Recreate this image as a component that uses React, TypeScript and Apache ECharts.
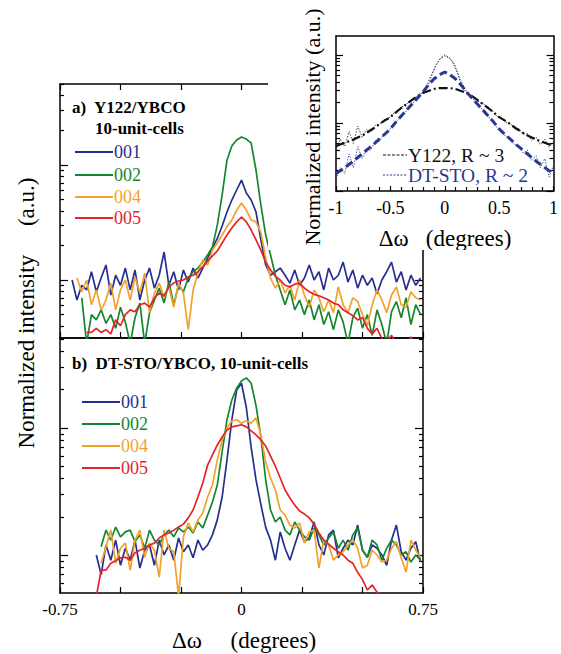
import React, { useEffect, useRef } from "react";
import * as echarts from "echarts";

const FONT = "Liberation Serif";

// Δω (degrees) sampling used by both main panels
const dOmega = [
  -0.70, -0.68, -0.66, -0.64, -0.62, -0.60, -0.58, -0.56, -0.54, -0.52,
  -0.50, -0.48, -0.46, -0.44, -0.42, -0.40, -0.38, -0.36, -0.34, -0.32,
  -0.30, -0.28, -0.26, -0.24, -0.22, -0.20, -0.18, -0.16, -0.14, -0.12,
  -0.10, -0.08, -0.06, -0.04, -0.02, 0, 0.02, 0.04, 0.06, 0.08,
  0.10, 0.12, 0.14, 0.16, 0.18, 0.20, 0.22, 0.24, 0.26, 0.28,
  0.30, 0.32, 0.34, 0.36, 0.38, 0.40, 0.42, 0.44, 0.46, 0.48,
  0.50, 0.52, 0.54, 0.56, 0.58, 0.60, 0.62, 0.64, 0.66, 0.68,
  0.70, 0.72, 0.74,
];

const seriesNames = ["001", "002", "004", "005"];
const seriesColors = ["#262f8f", "#15862f", "#f2a22a", "#e2252b"];

// panel a) Y122/YBCO
const a001 = [
  1.00, 0.67, 0.90, 0.82, 1.18, 0.79, 1.04, 1.35, 0.74, 1.10,
  0.90, 1.27, 0.82, 1.22, 0.67, 1.00, 1.27, 0.85, 1.10, 1.75,
  0.90, 1.18, 0.82, 1.22, 0.96, 1.27, 1.04, 1.27, 1.55, 1.90,
  2.30, 2.95, 3.90, 4.96, 6.06, 7.40, 5.70, 4.96, 3.90, 2.23,
  1.35, 1.10, 1.18, 1.27, 1.10, 0.94, 1.22, 0.90, 1.04, 1.35,
  1.00, 1.18, 0.82, 1.27, 1.00, 1.10, 1.43, 0.96, 1.22, 0.85,
  1.10, 0.90, 1.04, 0.76, 1.00, 1.18, 1.43, 0.96, 1.18, 0.82,
  1.10, 0.90, 1.04,
];
const a002 = [
  null, null, 0.70, 0.28, 0.50, 0.45, 0.55, 0.42, 0.50, 0.38,
  0.58, 0.43, 0.28, 0.47, 0.63, 0.28, 0.52, 0.67, 0.85, 0.63,
  0.96, 0.61, 0.90, 0.79, 1.04, 1.18, 1.27, 1.43, 1.65, 1.94,
  3.00, 5.50, 11.0, 14.6, 16.5, 17.5, 16.8, 15.5, 9.00, 4.49,
  2.46, 1.65, 1.10, 0.82, 0.61, 0.82, 0.55, 0.67, 0.50, 0.67,
  0.45, 0.61, 0.41, 0.53, 0.37, 0.55, 0.43, 0.28, 0.47, 0.57,
  0.38, 0.50, 0.33, 0.55, 0.41, 0.28, 0.53, 0.65, 0.47, 0.70,
  0.41, 0.61, 0.50,
];
const a004 = [
  null, 1.04, 0.79, 1.00, 0.61, 0.82, 0.55, 0.67, 0.94, 0.55,
  0.82, 1.00, 0.67, 1.06, 0.77, 1.15, 0.52, 0.77, 0.94, 0.71,
  0.87, 0.58, 0.94, 0.77, 0.37, 0.82, 1.15, 1.49, 1.35, 1.82,
  2.10, 2.46, 2.90, 3.32, 4.06, 4.67, 4.06, 3.32, 3.20, 2.60,
  1.55, 1.04, 0.85, 1.00, 0.77, 0.90, 0.67, 1.00, 0.74, 0.58,
  0.82, 0.70, 0.53, 0.67, 0.52, 0.87, 0.61, 0.52, 0.70, 0.65,
  0.50, 0.40, 0.61, 0.82, 0.67, 0.52, 0.74, 0.87, 0.61, 0.58,
  0.79, 0.70, 0.67,
];
const a005 = [
  null, null, null, 0.35, 0.35, 0.38, 0.35, 0.37, 0.34, 0.45,
  0.40, 0.50, 0.55, 0.53, 0.61, 0.63, 0.58, 0.70, 0.77, 0.73,
  0.87, 0.94, 0.98, 1.00, 1.06, 1.10, 1.18, 1.30, 1.46, 1.62,
  1.79, 2.10, 2.46, 2.83, 3.20, 3.53, 3.20, 2.72, 2.23, 1.82,
  1.43, 1.22, 1.08, 1.00, 0.90, 0.87, 0.92, 0.94, 0.85, 0.79,
  0.75, 0.73, 0.70, 0.67, 0.63, 0.61, 0.55, 0.52, 0.49, 0.45,
  0.47, 0.38, 0.34, 0.38, 0.31, 0.29, 0.33, 0.28, 0.30, 0.27,
  0.32, 0.28, 0.30,
];

// panel b) DT-STO/YBCO
const b001 = [
  null, null, null, null, null, 1.00, 0.70, 1.20, 0.91, 1.31,
  0.83, 1.13, 0.91, 1.31, 0.79, 1.09, 1.20, 0.83, 1.31, 1.00,
  1.20, 0.91, 1.36, 1.06, 1.20, 0.95, 1.31, 1.09, 1.20, 1.44,
  1.89, 2.86, 5.60, 11.6, 19.9, 22.5, 14.5, 7.00, 3.90, 2.50,
  1.65, 1.31, 0.91, 1.52, 1.13, 0.91, 1.20, 1.57, 1.27, 1.36,
  1.82, 1.20, 1.00, 1.44, 1.57, 0.95, 1.13, 1.31, 1.20, 1.72,
  1.09, 0.96, 1.20, 1.13, 1.00, 0.83, 1.31, 1.72, 1.06, 0.91,
  1.13, 1.27, 0.88,
];
const b002 = [
  null, null, null, null, null, null, 1.16, 1.57, 1.31, 1.66,
  1.39, 1.52, 1.57, 1.27, 1.44, 1.13, 1.57, 1.31, 1.20, 1.44,
  1.57, 1.39, 1.63, 1.52, 1.66, 1.49, 1.82, 1.63, 2.06, 2.61,
  3.56, 6.50, 11.6, 16.6, 20.6, 23.4, 24.8, 22.5, 15.0, 8.50,
  3.90, 2.26, 1.82, 1.99, 1.57, 1.44, 1.82, 1.57, 1.39, 1.31,
  1.63, 1.44, 1.20, 1.36, 1.52, 1.13, 1.31, 1.09, 1.44, 1.63,
  1.09, 0.96, 1.31, 1.20, 0.91, 1.13, 1.31, 1.20, 1.00, 1.06,
  0.88, 1.00, 0.91,
];
const b004 = [
  null, null, null, null, null, null, 0.86, 1.16, 1.57, 0.86,
  1.13, 1.24, 0.76, 1.31, 1.57, 0.96, 1.24, 1.09, 0.67, 1.57,
  1.13, 1.06, 0.47, 1.39, 1.79, 1.52, 1.89, 2.14, 2.86, 3.56,
  5.60, 8.05, 10.0, 11.4, 11.6, 10.9, 11.4, 10.9, 12.0, 8.81,
  5.40, 4.04, 3.25, 2.26, 2.06, 1.72, 1.63, 1.79, 1.24, 1.52,
  1.57, 0.79, 1.31, 1.20, 0.91, 1.00, 1.06, 1.20, 1.31, 1.13,
  0.79, 0.83, 1.09, 1.00, 0.88, 0.91, 1.13, 1.27, 0.95, 0.73,
  1.31, 1.09, 0.96,
];
const b005 = [
  null, null, null, null, null, 0.47, 0.76, 0.76, 0.86, 0.90,
  0.95, 0.96, 0.91, 1.04, 1.09, 1.13, 1.20, 1.24, 1.36, 1.44,
  1.49, 1.57, 1.66, 1.75, 1.96, 2.26, 2.86, 3.69, 5.11, 6.13,
  7.35, 8.50, 9.64, 10.2, 10.4, 10.6, 10.2, 9.50, 8.81, 8.05,
  7.20, 6.00, 5.00, 4.04, 3.25, 2.81, 2.47, 2.22, 2.10, 1.96,
  1.75, 1.49, 1.31, 1.22, 1.13, 1.06, 1.00, 0.91, 0.86, 0.73,
  0.64, 0.53, 0.58, 0.51, 0.47, null, null, null, null, null,
  null, null, null,
];

// axis extents and tick values
const mainXMin = -0.75;
const mainXMax = 0.75;
const mainXInterval = 0.25;
const mainXLabelValues = [-0.75, 0, 0.75];
const mainXLabels = ["-0.75", "0", "0.75"];
const topYMin = 0.3131;
const topYMax = 50.6;
const botYMin = 0.502;
const botYMax = 51.1;
const mainMajorTicks = [1, 10];
const topMinorTicks = [0.4, 0.5, 0.6, 0.7, 0.8, 0.9, 2, 3, 4, 5, 6, 7, 8, 9, 20, 30, 40, 50];
const botMinorTicks = [0.6, 0.7, 0.8, 0.9, 2, 3, 4, 5, 6, 7, 8, 9, 20, 30, 40, 50];

// inset
const insetRawX = [
  -1.00, -0.96, -0.92, -0.88, -0.84, -0.80, -0.76, -0.72, -0.68, -0.64,
  -0.60, -0.56, -0.52, -0.48, -0.44, -0.40, -0.36, -0.32, -0.28, -0.24,
  -0.20, -0.16, -0.12, -0.08, -0.04, 0, 0.04, 0.08, 0.12, 0.16,
  0.20, 0.24, 0.28, 0.32, 0.36, 0.40, 0.44, 0.48, 0.52, 0.56,
  0.60, 0.64, 0.68, 0.72, 0.76, 0.80, 0.84, 0.88, 0.92, 0.96,
  1.00,
];
const y122Raw = [
  0.040, 0.058, 0.045, 0.075, 0.050, 0.090, 0.062, 0.080, 0.074, 0.092,
  0.095, 0.112, 0.113, 0.137, 0.142, 0.172, 0.180, 0.212, 0.228, 0.26,
  0.28, 0.33, 0.50, 0.70, 0.90, 1.00, 0.92, 0.74, 0.52, 0.34,
  0.28, 0.252, 0.235, 0.200, 0.190, 0.160, 0.150, 0.126, 0.120, 0.102,
  0.100, 0.082, 0.083, 0.068, 0.070, 0.055, 0.062, 0.048, 0.058, 0.044,
  0.052,
];
const dtStoRaw = [
  0.015, 0.022, 0.018, 0.035, 0.022, 0.045, 0.030, 0.042, 0.040, 0.055,
  0.054, 0.070, 0.073, 0.094, 0.104, 0.132, 0.145, 0.182, 0.205, 0.25,
  0.29, 0.38, 0.52, 0.72, 0.88, 0.97, 0.90, 0.78, 0.55, 0.38,
  0.29, 0.238, 0.212, 0.172, 0.152, 0.123, 0.110, 0.086, 0.079, 0.063,
  0.060, 0.048, 0.047, 0.036, 0.040, 0.028, 0.033, 0.022, 0.030, 0.016,
  0.024,
];
const insetFitX = [
  -1.00, -0.95, -0.90, -0.85, -0.80, -0.75, -0.70, -0.65, -0.60, -0.55,
  -0.50, -0.45, -0.40, -0.35, -0.30, -0.25, -0.20, -0.15, -0.10, -0.05,
  0, 0.05, 0.10, 0.15, 0.20, 0.25, 0.30, 0.35, 0.40, 0.45,
  0.50, 0.55, 0.60, 0.65, 0.70, 0.75, 0.80, 0.85, 0.90, 0.95,
  1.00,
];
const y122Fit = [
  0.0459, 0.0491, 0.0525, 0.0562, 0.0612, 0.0666, 0.075, 0.0844, 0.0967, 0.109,
  0.122, 0.143, 0.166, 0.190, 0.218, 0.249, 0.276, 0.296, 0.316, 0.325,
  0.327, 0.325, 0.316, 0.296, 0.276, 0.249, 0.218, 0.190, 0.166, 0.143,
  0.122, 0.109, 0.0967, 0.0844, 0.075, 0.0666, 0.0612, 0.0562, 0.0525, 0.0491,
  0.0459,
];
const dtStoFit = [
  0.0181, 0.0204, 0.0233, 0.0267, 0.0311, 0.0362, 0.0422, 0.0491, 0.0582, 0.0689,
  0.0817, 0.103, 0.127, 0.155, 0.190, 0.233, 0.286, 0.362, 0.444, 0.508,
  0.562, 0.508, 0.444, 0.362, 0.286, 0.233, 0.190, 0.155, 0.127, 0.103,
  0.0817, 0.0689, 0.0582, 0.0491, 0.0422, 0.0362, 0.0311, 0.0267, 0.0233, 0.0204,
  0.0181,
];
const insetLegend = ["Y122, R ~ 3", "DT-STO, R ~ 2"];
const insetColors = ["#111111", "#2a3891"];
const insetXMin = -1;
const insetXMax = 1;
const insetXInterval = 0.5;
const insetYMin = 0.01;
const insetYMax = 1.9;
const insetMajorTicks = [0.01, 0.1, 1];
const insetMinorTicks = [0.02, 0.03, 0.04, 0.05, 0.06, 0.07, 0.08, 0.09, 0.2, 0.3, 0.4, 0.5, 0.6, 0.7, 0.8, 0.9];

function pairs(xs: number[], ys: (number | null)[]) {
  const out: number[][] = [];
  for (let i = 0; i < xs.length; i++) {
    const y = ys[i];
    if (y !== null && y !== undefined) out.push([xs[i], y]);
  }
  return out;
}

const BLACK_LINE = { color: "#000", width: 1.5 };
const TICK_LINE = { color: "#000", width: 1.2 };

function logYAxes(gridIndex: number, min: number, max: number, major: number[], minor: number[], majorLen: number, minorLen: number) {
  const make = (position: string, ticks: number[], len: number, showLine: boolean) => ({
    type: "log",
    logBase: 10,
    gridIndex,
    position,
    min,
    max,
    axisLine: { show: showLine, onZero: false, lineStyle: BLACK_LINE },
    axisTick: { show: true, inside: true, length: len, customValues: ticks, lineStyle: TICK_LINE },
    axisLabel: { show: false },
    splitLine: { show: false },
    minorTick: { show: false },
    minorSplitLine: { show: false },
  });
  return [
    make("left", major, majorLen, true),
    make("left", minor, minorLen, false),
    make("right", major, majorLen, true),
    make("right", minor, minorLen, false),
  ];
}

function mainXAxis(gridIndex: number, position: string, showTicks: boolean, showLabels: boolean) {
  return {
    type: "value",
    gridIndex,
    position,
    min: mainXMin,
    max: mainXMax,
    interval: mainXInterval,
    axisLine: { show: true, onZero: false, lineStyle: BLACK_LINE },
    axisTick: { show: showTicks, inside: true, length: 6, lineStyle: TICK_LINE },
    axisLabel: {
      show: showLabels,
      margin: 8,
      color: "#000",
      fontSize: 17,
      fontFamily: FONT,
      showMinLabel: true,
      showMaxLabel: true,
      formatter: (v: number) => {
        for (let i = 0; i < mainXLabelValues.length; i++) {
          if (Math.abs(v - mainXLabelValues[i]) < 1e-9) return mainXLabels[i];
        }
        return "";
      },
    },
    splitLine: { show: false },
  };
}

function text(str: string, x: number, y: number, size: number, color = "#000", weight = "normal", extra: any = {}) {
  const { align, ...rest } = extra;
  return {
    type: "text",
    x,
    y,
    silent: true,
    ...rest,
    style: {
      text: str,
      fill: color,
      fontSize: size,
      fontFamily: FONT,
      fontWeight: weight,
      align: align || "left",
      verticalAlign: "middle",
    },
  };
}

function legendBlock(x1: number, x2: number, ys: number[]) {
  const els: any[] = [];
  seriesNames.forEach((name, i) => {
    els.push({
      type: "line",
      silent: true,
      shape: { x1, y1: ys[i], x2, y2: ys[i] },
      style: { stroke: seriesColors[i], lineWidth: 1.8 },
    });
    els.push(text(name, x2 + 1, ys[i], 18, seriesColors[i]));
  });
  return els;
}

function buildMainOption() {
  const topData = [a001, a002, a004, a005];
  const botData = [b001, b002, b004, b005];
  const series: any[] = [];
  topData.forEach((d, i) =>
    series.push({
      name: "a " + seriesNames[i],
      type: "line",
      xAxisIndex: 0,
      yAxisIndex: 0,
      data: pairs(dOmega, d),
      symbol: "none",
      showSymbol: false,
      clip: true,
      lineStyle: { color: seriesColors[i], width: 1.7 },
      itemStyle: { color: seriesColors[i] },
    })
  );
  botData.forEach((d, i) =>
    series.push({
      name: "b " + seriesNames[i],
      type: "line",
      xAxisIndex: 2,
      yAxisIndex: 4,
      data: pairs(dOmega, d),
      symbol: "none",
      showSymbol: false,
      clip: true,
      lineStyle: { color: seriesColors[i], width: 1.7 },
      itemStyle: { color: seriesColors[i] },
    })
  );

  return {
    animation: false,
    backgroundColor: "#fff",
    textStyle: { fontFamily: FONT },
    grid: [
      { left: 60, top: 84, width: 363, height: 254 },
      { left: 60, top: 338, width: 363, height: 255 },
    ],
    xAxis: [
      mainXAxis(0, "bottom", true, false),
      mainXAxis(0, "top", true, false),
      mainXAxis(1, "bottom", true, true),
      mainXAxis(1, "top", false, false),
    ],
    yAxis: [
      ...logYAxes(0, topYMin, topYMax, mainMajorTicks, topMinorTicks, 8, 4),
      ...logYAxes(1, botYMin, botYMax, mainMajorTicks, botMinorTicks, 8, 4),
    ],
    series,
    graphic: [
      text("a)  Y122/YBCO", 72, 107, 17, "#000", "bold"),
      text("10-unit-cells", 95, 128, 17, "#000", "bold"),
      text("b)  DT-STO/YBCO, 10-unit-cells", 72, 363, 17, "#000", "bold"),
      ...legendBlock(75, 113, [152, 175, 197, 218]),
      ...legendBlock(82, 120, [402, 424, 446, 468]),
      text("Normalized intensity     (a.u.)", 26, 313, 23, "#000", "normal", { rotation: Math.PI / 2, align: "center" }),
      text("\u0394\u03c9     (degrees)", 244, 640, 23, "#000", "normal", { align: "center" }),
    ],
  };
}

function buildInsetOption() {
  const yAxes = logYAxes(0, insetYMin, insetYMax, insetMajorTicks, insetMinorTicks, 7, 4);
  return {
    animation: false,
    backgroundColor: "#fff",
    textStyle: { fontFamily: FONT },
    grid: { left: 68, top: 36, width: 221, height: 155 },
    xAxis: [
      {
        type: "value",
        position: "bottom",
        min: insetXMin,
        max: insetXMax,
        interval: insetXInterval,
        axisLine: { show: true, onZero: false, lineStyle: BLACK_LINE },
        axisTick: { show: true, inside: true, length: 5, lineStyle: TICK_LINE },
        minorTick: { show: true, splitNumber: 5, length: 4, lineStyle: TICK_LINE },
        axisLabel: { show: true, margin: 8, color: "#000", fontSize: 18, fontFamily: FONT, showMinLabel: true, showMaxLabel: true },
        splitLine: { show: false },
      },
      {
        type: "value",
        position: "top",
        min: insetXMin,
        max: insetXMax,
        interval: insetXInterval,
        axisLine: { show: true, onZero: false, lineStyle: BLACK_LINE },
        axisTick: { show: false },
        axisLabel: { show: false },
        splitLine: { show: false },
      },
    ],
    yAxis: yAxes,
    series: [
      {
        name: "Y122 data",
        type: "line",
        data: pairs(insetRawX, y122Raw),
        symbol: "none",
        showSymbol: false,
        lineStyle: { color: "#333", width: 0.9, type: [1.5, 1.5] },
      },
      {
        name: "DT-STO data",
        type: "line",
        data: pairs(insetRawX, dtStoRaw),
        symbol: "none",
        showSymbol: false,
        lineStyle: { color: "#3343a0", width: 0.9, type: [1.5, 1.5] },
      },
      {
        name: insetLegend[0],
        type: "line",
        data: pairs(insetFitX, y122Fit),
        symbol: "none",
        showSymbol: false,
        lineStyle: { color: insetColors[0], width: 2.2, type: [9, 3, 2, 3] },
      },
      {
        name: insetLegend[1],
        type: "line",
        data: pairs(insetFitX, dtStoFit),
        symbol: "none",
        showSymbol: false,
        lineStyle: { color: insetColors[1], width: 3, type: [8, 4] },
      },
    ],
    graphic: [
      { type: "line", silent: true, shape: { x1: 115, y1: 155, x2: 139, y2: 155 }, style: { stroke: insetColors[0], lineWidth: 1, lineDash: [3, 1.5] } },
      text(insetLegend[0], 140, 155, 19.5, insetColors[0]),
      { type: "line", silent: true, shape: { x1: 115, y1: 175, x2: 139, y2: 175 }, style: { stroke: insetColors[1], lineWidth: 1, lineDash: [2, 1.5] } },
      text(insetLegend[1], 140, 175, 19.5, insetColors[1]),
      text("Normalized intensity (a.u.)", 44, 127, 22, "#000", "normal", { rotation: Math.PI / 2, align: "center" }),
      text("\u0394\u03c9   (degrees)", 177, 238, 23, "#000", "normal", { align: "center" }),
    ],
  };
}

export default function App() {
  const mainRef = useRef<HTMLDivElement>(null);
  const insetRef = useRef<HTMLDivElement>(null);
  useEffect(() => {
    const main = echarts.init(mainRef.current as HTMLDivElement, null, { renderer: "svg" });
    const inset = echarts.init(insetRef.current as HTMLDivElement, null, { renderer: "svg" });
    main.setOption(buildMainOption() as any);
    inset.setOption(buildInsetOption() as any);
    return () => {
      main.dispose();
      inset.dispose();
    };
  }, []);
  return (
    <div style={{ position: "fixed", left: 0, top: 0, width: 561, height: 654, background: "#fff" }}>
      <div ref={mainRef} style={{ position: "absolute", left: 0, top: 0, width: 561, height: 654 }} />
      <div ref={insetRef} style={{ position: "absolute", left: 268, top: 0, width: 293, height: 250, background: "#fff" }} />
    </div>
  );
}
